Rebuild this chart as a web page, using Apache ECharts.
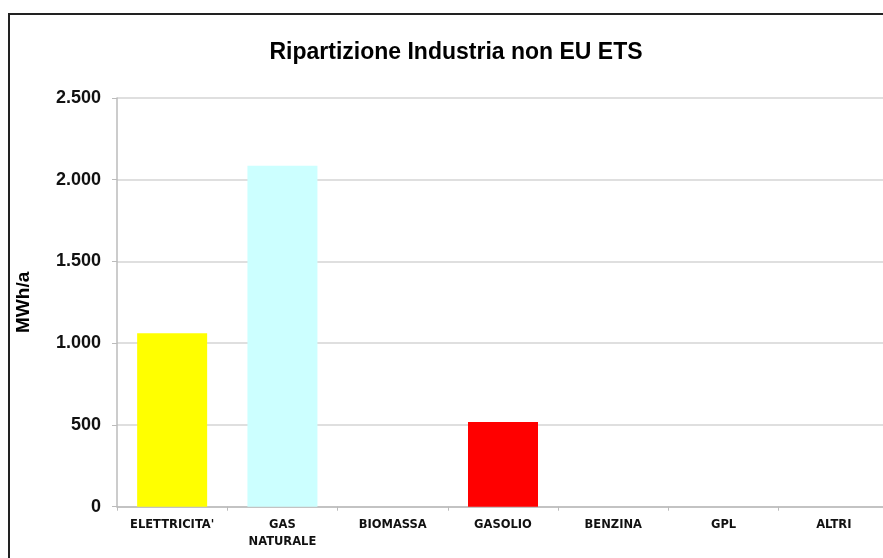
<!DOCTYPE html>
<html>
<head>
<meta charset="utf-8">
<script src="https://cdn.jsdelivr.net/npm/echarts@6/dist/echarts.min.js"></script>
<style>
html, body { margin: 0; padding: 0; background: #fff; overflow: hidden; }
#chart { position: absolute; left: 0; top: 0; width: 900px; height: 558px; }
#frame { position: absolute; left: 8px; top: 13px; width: 900px; height: 560px;
         border-left: 2px solid #222; border-top: 2px solid #222; pointer-events: none; }
</style>
</head>
<body>
<div id="chart"></div>
<div id="frame"></div>
<script>
// data
var categories = ["ELETTRICITA'", 'GAS\nNATURALE', 'BIOMASSA', 'GASOLIO', 'BENZINA', 'GPL', 'ALTRI'];
var values = [1061, 2085, 0, 518, 0, 0, 0];
var barColors = ['#ffff00', '#ccffff', '#999999', '#ff0000', '#999999', '#999999', '#999999'];
var yTicks = [0, 500, 1000, 1500, 2000, 2500];

var myChart = echarts.init(document.getElementById('chart'));
var option = {
    animation: false,
    title: {
        text: 'Ripartizione Industria non EU ETS',
        left: 451,
        top: 36,
        textAlign: 'center',
        textStyle: {
            fontFamily: 'Liberation Sans',
            fontSize: 23,
            fontWeight: 'bold',
            color: '#000'
        }
    },
    grid: {
        left: 117,
        top: 98,
        width: 772,
        height: 408.7
    },
    xAxis: {
        type: 'category',
        data: categories,
        axisLine: { lineStyle: { color: '#bbbbbb', width: 1.5 } },
        axisTick: { show: true, length: 4, lineStyle: { color: '#bbbbbb' } },
        axisLabel: {
            margin: 10,
            interval: 0,
            fontFamily: 'DejaVu Sans',
            fontSize: 11.5,
            fontWeight: 'bold',
            lineHeight: 17,
            color: '#111'
        }
    },
    yAxis: {
        type: 'value',
        min: yTicks[0],
        max: yTicks[yTicks.length - 1],
        interval: 500,
        name: 'MWh/a',
        nameLocation: 'middle',
        nameGap: 84,
        nameTextStyle: {
            fontFamily: 'Liberation Sans',
            fontSize: 19,
            fontWeight: 'bold',
            color: '#000'
        },
        axisLine: { show: true, lineStyle: { color: '#bbbbbb', width: 1.5 } },
        axisTick: { show: true, length: 5, lineStyle: { color: '#bbbbbb' } },
        splitLine: { lineStyle: { color: '#d4d4d4', width: 1.5 } },
        axisLabel: {
            margin: 16,
            fontFamily: 'Liberation Sans',
            fontSize: 18,
            fontWeight: 'bold',
            color: '#111',
            formatter: function (v) {
                return String(v).replace(/\B(?=(\d{3})+(?!\d))/g, '.');
            }
        }
    },
    series: [{
        type: 'bar',
        barWidth: 70,
        data: values.map(function (v, i) {
            return { value: v, itemStyle: { color: barColors[i] } };
        })
    }]
};
myChart.setOption(option);
</script>
</body>
</html>
